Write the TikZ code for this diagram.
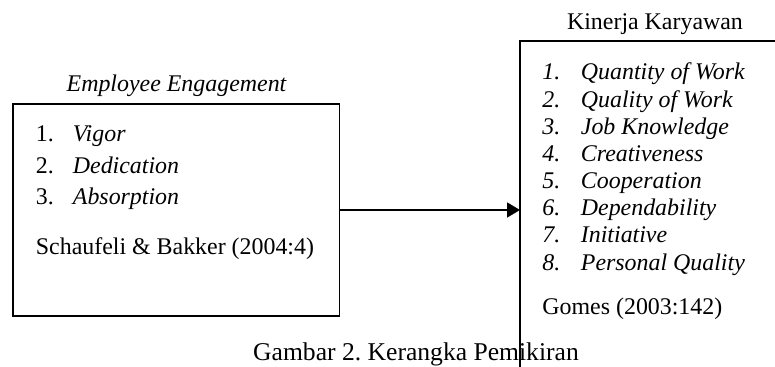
\documentclass[tikz,border=0pt]{standalone}
\usepackage{fontspec}
\setmainfont{Liberation Serif}
\usetikzlibrary{arrows.meta}
\frenchspacing
\begin{document}
\begin{tikzpicture}[x=0.5pt,y=-0.5pt,line width=0.9pt,
  font=\fontsize{11.95pt}{14pt}\selectfont,
  box/.style={draw,inner sep=0,outer sep=0},
  item/.style={anchor=base west,inner sep=0},
  title/.style={anchor=base,inner sep=0}]
  \useasboundingbox (0,0) rectangle (775,367);
  \clip (0,0) rectangle (775,367);

  % Employee engagement box
  \node[title] (eetitle) at (176.5,92) {\itshape Employee Engagement};
  \node[box,minimum width=163.25pt,minimum height=106pt] (engagement) at (176.25,210) {};
  \foreach \t [count=\i] in {Vigor,Dedication,Absorption} {
    \node[item] (eenum\i) at (35,{142+31.5*(\i-1)}) {\i.};
    \node[item] (eeitem\i) at (72,{142+31.5*(\i-1)}) {\itshape \t};
  }
  \node[item] (eesource) at (35,255) {Schaufeli \& Bakker (2004:4)};

  % Kinerja karyawan box (runs off the page)
  \node[title] (kktitle) at (655,30) {Kinerja Karyawan};
  \node[box,minimum width=140pt,minimum height=169pt] (kinerja) at (660,210) {};
  \foreach \t [count=\i] in {Quantity of Work,Quality of Work,Job Knowledge,Creativeness,
      Cooperation,Dependability,Initiative,Personal Quality} {
    \node[item] (kknum\i) at (541.5,{80+27.15*(\i-1)}) {\itshape \i.};
    \node[item] (kkitem\i) at (580,{80+27.15*(\i-1)}) {\itshape \t};
  }
  \node[item] (kksource) at (541.5,315) {Gomes (2003:142)};

  % Connection
  \draw[-{Triangle[length=6.5pt,width=7.5pt]}] (engagement.east) -- (kinerja.west);

  % Caption
  \node[title,font=\fontsize{12.8pt}{15pt}\selectfont] (caption) at (416,361) {Gambar 2. Kerangka Pemikiran};
\end{tikzpicture}
\end{document}
